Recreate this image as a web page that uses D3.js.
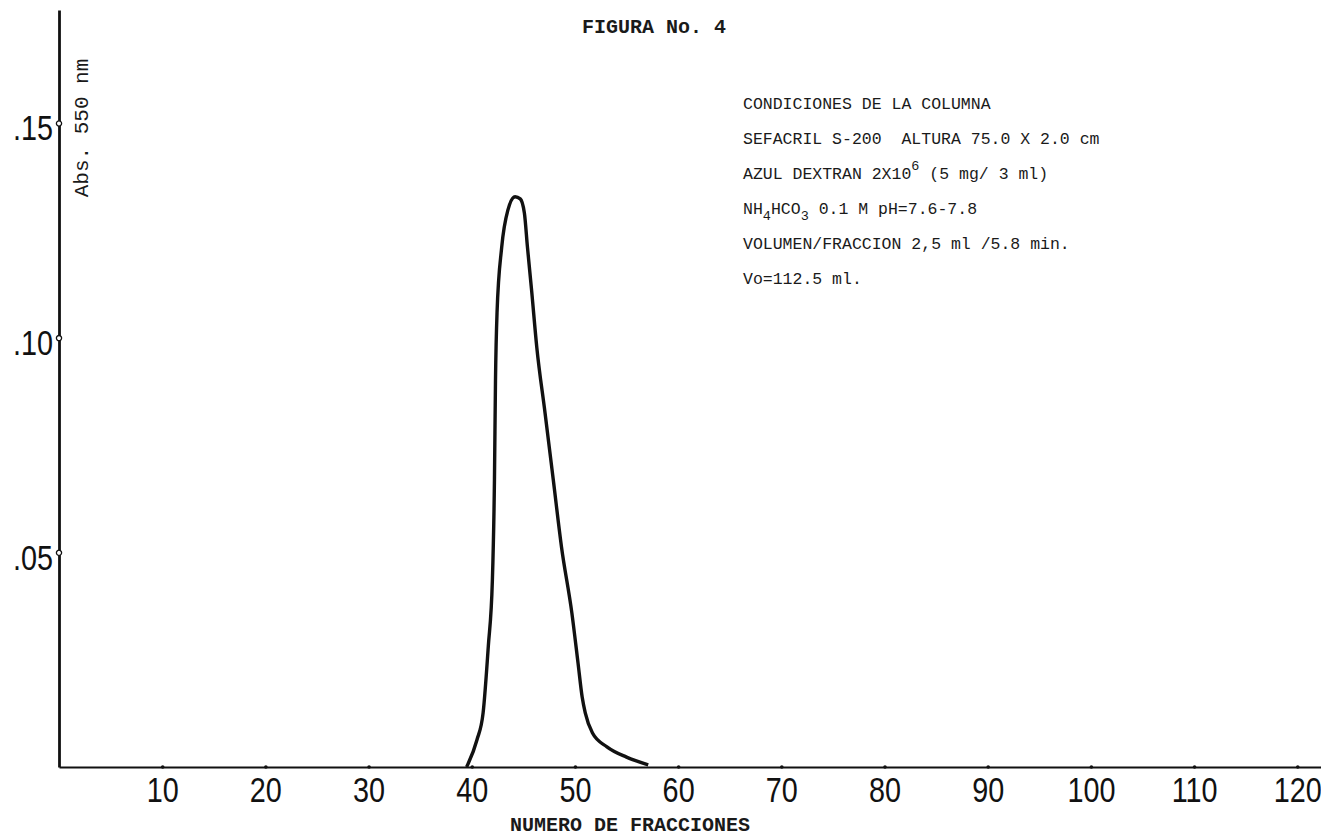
<!DOCTYPE html>
<html>
<head>
<meta charset="utf-8">
<script src="https://cdn.jsdelivr.net/npm/d3@7"></script>
<style>
  html, body { margin: 0; padding: 0; background: #fff; }
  svg { display: block; }
  .mono { font-family: "Liberation Mono", "DejaVu Sans Mono", monospace; fill: #1a1a1a; }
  .tick-label { font-family: "Liberation Sans", Arial, sans-serif; font-size: 36px; fill: #111; }
</style>
</head>
<body>
<svg id="chart" width="1321" height="838"></svg>
<script>
// Elution profile, Sefacril S-200 column (azul dextran)
const fractions = [39.5, 40.5, 41.1, 41.6, 42.0, 42.2, 42.3, 42.45, 42.9, 43.5, 44.2,
  44.7, 45.1, 45.4, 45.8, 46.3, 47.1, 47.9, 48.7, 49.7, 50.3, 50.7, 51.0, 51.7, 53.1, 55.0, 57.1];
const absorbance = [0.0, 0.0063, 0.0126, 0.028, 0.0436, 0.0669, 0.090, 0.1058, 0.121, 0.1297, 0.1328,
  0.1323, 0.129, 0.121, 0.111, 0.0978, 0.0825, 0.0669, 0.0512, 0.0359, 0.0242, 0.0163, 0.0126, 0.0079, 0.0047, 0.0023, 0.0005];

const xTicks = [10, 20, 30, 40, 50, 60, 70, 80, 90, 100, 110, 120];
const yTicks = [0.05, 0.10, 0.15];
const yTickLabels = ['.05', '.10', '.15'];

const titleText = 'FIGURA No. 4';
const xLabel = 'NUMERO DE FRACCIONES';
const yLabel = 'Abs. 550 nm';

// each line: list of [text, shift] where shift is 'sub', 'sup' or ''
const conditionLines = [
  [['CONDICIONES DE LA COLUMNA', '']],
  [['SEFACRIL S-200  ALTURA 75.0 X 2.0 cm', '']],
  [['AZUL DEXTRAN 2X10', ''], ['6', 'sup'], [' (5 mg/ 3 ml)', '']],
  [['NH', ''], ['4', 'sub'], ['HCO', ''], ['3', 'sub'], [' 0.1 M pH=7.6-7.8', '']],
  [['VOLUMEN/FRACCION 2,5 ml /5.8 min.', '']],
  [['Vo=112.5 ml.', '']]
];

(function() {
    'use strict';

    const svg = d3.select('#chart');
    const margin = { top: 10, right: 0, bottom: 71, left: 59 };
    const width = 1321 - margin.left - margin.right;
    const height = 838 - margin.top - margin.bottom;

    const g = svg.append('g')
        .attr('transform', `translate(${margin.left},${margin.top})`);

    const x = d3.scaleLinear().domain([0, 122.3]).range([0, width]);
    const y = d3.scaleLinear().domain([0, 0.1763]).range([height, 0]);

    // X axis
    const xAxis = g.append('g')
        .attr('transform', `translate(0,${height})`)
        .call(d3.axisBottom(x).tickValues(xTicks).tickSize(0).tickSizeOuter(0));
    xAxis.select('.domain').attr('stroke', '#111').attr('stroke-width', 2.2);
    xAxis.selectAll('.tick text')
        .attr('class', 'tick-label')
        .attr('y', 35).attr('dy', 0)
        .attr('transform', 'scale(0.8,1)');
    xAxis.selectAll('.tick').append('circle')
        .attr('r', 1.8).attr('fill', '#111');

    // Y axis
    const yAxis = g.append('g')
        .call(d3.axisLeft(y).tickValues(yTicks).tickSize(0).tickSizeOuter(0)
            .tickFormat((d, i) => yTickLabels[i]));
    yAxis.select('.domain').attr('stroke', '#111').attr('stroke-width', 2.8);
    yAxis.selectAll('.tick text')
        .attr('class', 'tick-label')
        .attr('x', -7.5).attr('y', 17).attr('dy', 0)
        .attr('transform', 'scale(0.8,1)');
    yAxis.selectAll('.tick').append('circle')
        .attr('r', 2.6).attr('fill', '#fff').attr('stroke', '#111').attr('stroke-width', 1.3);

    // Elution curve
    const points = fractions.map((f, i) => [f, absorbance[i]]);
    const line = d3.line()
        .x(d => x(d[0]))
        .y(d => y(d[1]))
        .curve(d3.curveMonotoneX);

    g.append('path')
        .datum(points)
        .attr('fill', 'none')
        .attr('stroke', '#111')
        .attr('stroke-width', 3.4)
        .attr('stroke-linejoin', 'round')
        .attr('d', line);

    // Y axis label (rotated, typewriter)
    svg.append('text')
        .attr('class', 'mono')
        .attr('transform', 'translate(88,128) rotate(-90)')
        .attr('text-anchor', 'middle')
        .style('font-size', '21px')
        .text(yLabel);

    // X axis label
    svg.append('text')
        .attr('class', 'mono')
        .attr('x', 630).attr('y', 831)
        .attr('text-anchor', 'middle')
        .style('font-size', '20px')
        .style('font-weight', 'bold')
        .text(xLabel);

    // Title
    svg.append('text')
        .attr('class', 'mono')
        .attr('x', 582).attr('y', 33)
        .style('font-size', '20px')
        .style('font-weight', 'bold')
        .text(titleText);

    // Column conditions block
    const block = svg.append('g').attr('transform', 'translate(743,109)');
    conditionLines.forEach((segs, i) => {
        const t = block.append('text')
            .attr('class', 'mono')
            .attr('y', i * 35)
            .attr('xml:space', 'preserve')
            .style('white-space', 'pre')
            .style('font-size', '16.5px');
        // baseline shift for sub/superscripts, reset afterwards
        let shift = 0;
        segs.forEach(s => {
            const target = s[1] === 'sub' ? 6 : s[1] === 'sup' ? -9 : 0;
            const span = t.append('tspan').text(s[0]).attr('dy', target - shift);
            if (s[1]) span.style('font-size', '13.5px');
            shift = target;
        });
    });
})();
</script>
</body>
</html>
